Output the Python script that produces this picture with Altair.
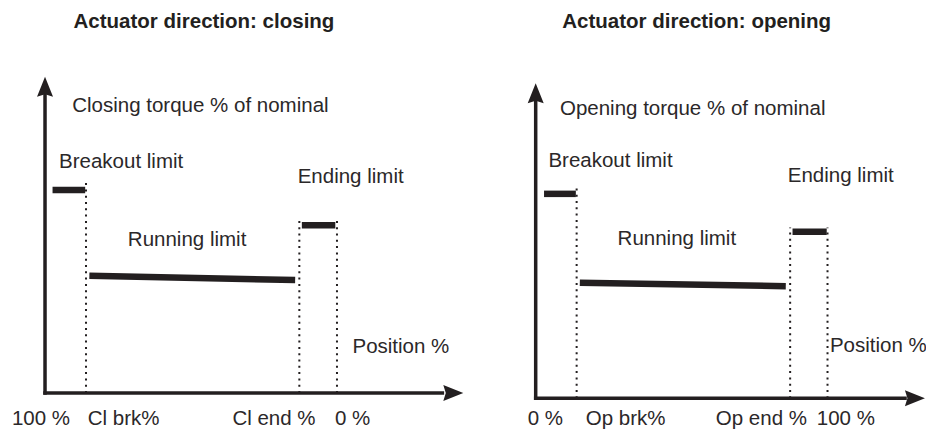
import altair as alt
import pandas as pd

FONT = "Liberation Sans"
INK = "#231f20"
TEXT_INK = "#2b2829"

# ---------------- data (per panel: 0 = closing, 1 = opening) ----------------
titles = ["Actuator direction: closing", "Actuator direction: opening"]
torque_labels = ["Closing torque % of nominal", "Opening torque % of nominal"]
tick_labels = [["100 %", "Cl brk%", "Cl end %", "0 %"],
               ["0 %", "Op brk%", "Op end %", "100 %"]]
limit_names = ["Breakout limit", "Running limit", "Ending limit"]
position_label = "Position %"

# travel position (axis units: 0 = origin, ~100 = arrow tip)
axis_tip_x = [100, 97.9]
breakout_bar_start = [1.8, 2.1]
breakout_bar_end = [9.6, 10.1]
brk_position = [9.8, 10.3]
running_start = [10.6, 11.1]
running_end = [59.8, 62.9]
end_position = [60.8, 64.0]
final_position = [69.8, 73.4]
ending_bar_start = [61.4, 64.6]
ending_bar_end = [69.4, 73.2]

# torque (axis units: 0 = origin, 100 = arrow tip)
breakout_torque = [64.2, 64.9]
running_torque_start = [37.1, 36.7]
running_torque_end = [35.7, 35.6]
ending_torque = [53.0, 52.9]
brk_guide_top = [66.8, 66.7]
end_guide_top = [54.5, 54.2]

# annotation anchors (x, baseline y) in axis units
title_x = [38.0, 40.5]
title_y = [115.5, 117.7]
torque_label_xy = [(6.5, 88.7), (6.1, 89.9)]
breakout_label_xy = [(3.35, 71.2), (3.2, 73.5)]
running_label_xy = [(19.8, 46.6), (20.6, 48.7)]
ending_label_xy = [(60.4, 66.5), (63.4, 68.8)]
position_label_xy = [(73.5, 12.7), (74.0, 14.8)]
tick_label_x = [[-7.9, 10.2, 44.8, 69.3], [-2.0, 12.6, 45.3, 70.7]]
tick_label_y = [-10.1, -8.5]

# view windows of each panel (axis units)
x_domain = [[-8.85, 101.84], [-16.27, 98.17]]
y_domain = [[-11.38, 121.72], [-9.75, 123.90]]

WIDTHS = [463, 455]
H = 421
FS = 20.5


def panel(i):
    xs = alt.Scale(domain=x_domain[i], nice=False, zero=False)
    ys = alt.Scale(domain=y_domain[i], nice=False, zero=False)

    def X(f):
        return alt.X(f, type="quantitative", scale=xs, axis=None)

    def Y(f):
        return alt.Y(f, type="quantitative", scale=ys, axis=None)

    # white panel background spanning the whole view window
    bg = pd.DataFrame({"x": [x_domain[i][0]], "x2": [x_domain[i][1]],
                       "y": [y_domain[i][0]], "y2": [y_domain[i][1]]})
    bg_layer = alt.Chart(bg).mark_rect(color="white", opacity=1).encode(
        x=X("x"), x2="x2", y=Y("y"), y2="y2")

    axes = pd.DataFrame({"x": [0, 0], "y": [0, 0],
                         "x2": [0, axis_tip_x[i] - 5], "y2": [95, 0]})
    axis_layer = alt.Chart(axes).mark_rule(
        color=INK, strokeWidth=3.5, strokeCap="square", clip=True
    ).encode(x=X("x"), y=Y("y"), x2="x2", y2="y2")

    up = alt.Chart(pd.DataFrame({"x": [0], "y": [100]})).mark_point(
        shape="M0,0L0.8,2L0,1.75L-0.8,2Z", size=400, filled=True, opacity=1,
        color=INK, strokeWidth=0, clip=True
    ).encode(x=X("x"), y=Y("y"))
    right = alt.Chart(pd.DataFrame({"x": [axis_tip_x[i]], "y": [0]})).mark_point(
        shape="M0,0L-2,0.8L-1.75,0L-2,-0.8Z", size=400, filled=True, opacity=1,
        color=INK, strokeWidth=0, clip=True
    ).encode(x=X("x"), y=Y("y"))

    guides = pd.DataFrame({
        "x": [brk_position[i], end_position[i], final_position[i]],
        "y": [0, 0, 0],
        "y2": [brk_guide_top[i], end_guide_top[i], end_guide_top[i]],
    })
    guide_layer = alt.Chart(guides).mark_rule(
        color=INK, strokeWidth=2, strokeDash=[2, 4.3], clip=True
    ).encode(x=X("x"), y=Y("y"), y2="y2")

    limits = pd.DataFrame({
        "x": [breakout_bar_start[i], running_start[i], ending_bar_start[i]],
        "x2": [breakout_bar_end[i], running_end[i], ending_bar_end[i]],
        "y": [breakout_torque[i], running_torque_start[i], ending_torque[i]],
        "y2": [breakout_torque[i], running_torque_end[i], ending_torque[i]],
    })
    limit_layer = alt.Chart(limits).mark_rule(
        color=INK, strokeWidth=6.5, strokeCap="butt", clip=True
    ).encode(x=X("x"), y=Y("y"), x2="x2", y2="y2")

    title_df = pd.DataFrame({"x": [title_x[i]], "y": [title_y[i]], "t": [titles[i]]})
    title_layer = alt.Chart(title_df).mark_text(
        font=FONT, fontSize=FS, fontWeight="bold", color=INK,
        align="center", baseline="alphabetic", clip=True
    ).encode(x=X("x"), y=Y("y"), text="t:N")

    lab_xy = [torque_label_xy[i], breakout_label_xy[i], running_label_xy[i],
              ending_label_xy[i], position_label_xy[i]]
    lab_t = [torque_labels[i], limit_names[0], limit_names[1], limit_names[2], position_label]
    labels = pd.DataFrame({
        "x": [p[0] for p in lab_xy] + tick_label_x[i],
        "y": [p[1] for p in lab_xy] + [tick_label_y[i]] * 4,
        "t": lab_t + tick_labels[i],
    })
    label_layer = alt.Chart(labels).mark_text(
        font=FONT, fontSize=FS, color=TEXT_INK, align="left", baseline="alphabetic",
        clip=True
    ).encode(x=X("x"), y=Y("y"), text="t:N")

    return alt.layer(
        bg_layer, guide_layer, axis_layer, up, right, limit_layer, title_layer, label_layer
    ).properties(width=WIDTHS[i], height=H)


chart = alt.hconcat(panel(0), panel(1), spacing=0, bounds="flush").resolve_scale(
    x="independent", y="independent"
).properties(padding=0, background="white").configure_view(stroke=None, fill="white")

chart.save("out.html", embed_options={"renderer": "svg", "actions": False})
